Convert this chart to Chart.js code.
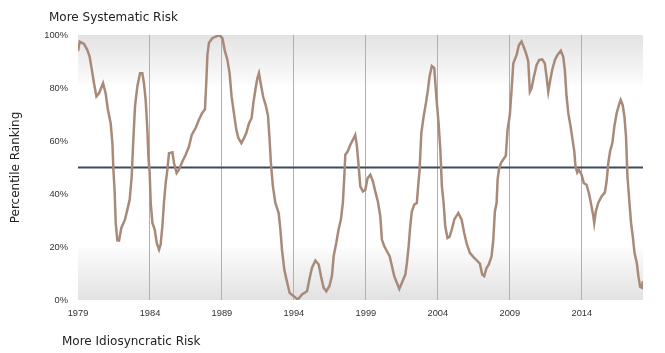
<!DOCTYPE html>
<html>
<head>
<meta charset="utf-8">
<script src="https://cdn.jsdelivr.net/npm/chart.js@4.4.1/dist/chart.umd.min.js"></script>
<style>
  body { margin: 0; background: #fff; }
  #wrap { width: 665px; height: 353px; }
</style>
</head>
<body>
<div id="wrap"><canvas id="graphe" width="665" height="353"></canvas></div>
<script>
// percentile ranking (decimal years)
const years = [
  1979.00, 1979.12, 1979.42, 1979.65, 1979.81, 1980.00, 1980.11, 1980.28, 1980.46, 1980.74,
  1980.92, 1981.08, 1981.27, 1981.39, 1981.46, 1981.55, 1981.62, 1981.73, 1981.85, 1982.01,
  1982.26, 1982.43, 1982.59, 1982.73, 1982.82, 1982.96, 1983.12, 1983.31, 1983.47, 1983.58,
  1983.70, 1983.82, 1983.89, 1983.98, 1984.05, 1984.17, 1984.33, 1984.47, 1984.63, 1984.74,
  1984.86, 1984.97, 1985.09, 1985.21, 1985.32, 1985.56, 1985.67, 1985.85, 1986.01, 1986.25,
  1986.48, 1986.71, 1986.90, 1987.17, 1987.40, 1987.64, 1987.82, 1987.92, 1987.99, 1988.10,
  1988.33, 1988.56, 1988.79, 1989.03, 1989.19, 1989.38, 1989.53, 1989.67, 1989.83, 1990.00,
  1990.14, 1990.35, 1990.53, 1990.69, 1990.88, 1991.06, 1991.18, 1991.34, 1991.46, 1991.57,
  1991.69, 1991.87, 1992.05, 1992.20, 1992.31, 1992.40, 1992.54, 1992.71, 1992.94, 1993.06,
  1993.17, 1993.33, 1993.51, 1993.70, 1993.99, 1994.27, 1994.56, 1994.91, 1995.07, 1995.25,
  1995.49, 1995.72, 1995.88, 1996.06, 1996.25, 1996.46, 1996.64, 1996.76, 1996.94, 1997.10,
  1997.26, 1997.40, 1997.50, 1997.57, 1997.73, 1997.92, 1998.10, 1998.26, 1998.38, 1998.49,
  1998.61, 1998.79, 1998.96, 1999.12, 1999.31, 1999.49, 1999.65, 1999.83, 2000.00, 2000.11,
  2000.28, 2000.46, 2000.65, 2000.81, 2000.97, 2001.15, 2001.32, 2001.50, 2001.74, 2001.85,
  2001.97, 2002.08, 2002.19, 2002.36, 2002.54, 2002.61, 2002.73, 2002.85, 2003.01, 2003.17,
  2003.31, 2003.42, 2003.58, 2003.75, 2003.89, 2004.05, 2004.17, 2004.28, 2004.40, 2004.51,
  2004.67, 2004.81, 2004.96, 2005.15, 2005.42, 2005.65, 2005.83, 2005.99, 2006.22, 2006.46,
  2006.69, 2006.92, 2007.08, 2007.22, 2007.38, 2007.54, 2007.73, 2007.85, 2007.96, 2008.08,
  2008.15, 2008.24, 2008.38, 2008.61, 2008.72, 2008.84, 2009.00, 2009.12, 2009.24, 2009.47,
  2009.63, 2009.81, 2010.00, 2010.16, 2010.28, 2010.39, 2010.51, 2010.67, 2010.86, 2011.04,
  2011.25, 2011.43, 2011.55, 2011.67, 2011.81, 2011.94, 2012.13, 2012.31, 2012.54, 2012.71,
  2012.82, 2012.94, 2013.06, 2013.22, 2013.34, 2013.48, 2013.56, 2013.68, 2013.79, 2013.98,
  2014.14, 2014.33, 2014.49, 2014.63, 2014.80, 2014.86, 2014.97, 2015.14, 2015.37, 2015.60,
  2015.72, 2015.84, 2015.96, 2016.12, 2016.26, 2016.42, 2016.58, 2016.70, 2016.84, 2016.96,
  2017.07, 2017.17, 2017.31, 2017.42, 2017.54, 2017.66, 2017.82, 2017.93, 2018.05, 2018.17,
  2018.24
];
const ranks = [
  94.0, 97.5, 96.6, 94.3, 91.8, 85.6, 81.8, 76.8, 78.0, 81.8,
  78.0, 71.7, 66.7, 59.2, 49.2, 40.4, 29.1, 22.5, 22.4, 27.2,
  30.3, 34.1, 37.9, 46.6, 57.9, 73.0, 80.5, 85.6, 85.6, 81.8,
  75.5, 64.2, 54.2, 47.9, 36.6, 29.1, 26.6, 21.5, 19.0, 20.9,
  27.8, 36.6, 44.1, 49.2, 55.4, 55.7, 51.7, 47.9, 49.2, 52.3,
  54.8, 57.9, 62.3, 64.9, 68.0, 70.7, 72.0, 83.1, 92.5, 97.1,
  98.8, 99.4, 100.0, 98.8, 94.3, 90.6, 85.6, 76.8, 70.5, 64.2,
  61.1, 59.2, 61.1, 63.0, 66.7, 68.6, 74.3, 79.9, 83.7, 85.6,
  81.8, 76.5, 73.3, 69.5, 60.5, 51.7, 42.9, 36.6, 32.8, 26.6,
  19.0, 11.5, 7.1, 2.7, 1.4, 0.2, 2.1, 3.3, 7.7, 12.1,
  14.9, 13.4, 9.0, 4.6, 3.3, 5.2, 9.0, 16.5, 21.5, 26.6,
  30.3, 36.6, 46.6, 54.8, 56.0, 58.6, 60.5, 62.3, 57.9, 51.0,
  42.9, 41.0, 41.6, 46.0, 47.3, 44.7, 41.0, 37.2, 31.6, 22.8,
  20.3, 18.4, 16.5, 12.7, 9.0, 6.5, 4.2, 6.5, 9.6, 14.0,
  20.3, 27.8, 33.4, 36.0, 36.6, 41.6, 49.2, 63.0, 69.2, 74.3,
  79.3, 84.3, 88.3, 87.5, 76.8, 66.7, 56.7, 42.9, 36.6, 27.8,
  23.4, 23.8, 26.5, 30.5, 32.8, 30.3, 25.3, 21.5, 17.8, 16.3,
  15.0, 13.7, 9.6, 9.0, 12.1, 13.4, 16.5, 22.8, 33.4, 36.6,
  45.4, 49.2, 51.7, 53.6, 54.4, 64.2, 69.9, 79.3, 89.3, 92.5,
  96.2, 97.5, 95.0, 92.5, 89.9, 78.6, 79.9, 84.3, 88.7, 90.6,
  90.8, 89.3, 84.3, 78.6, 83.1, 86.8, 90.6, 92.5, 94.1, 91.8,
  86.8, 76.8, 70.5, 65.5, 61.1, 56.0, 50.4, 48.1, 49.2, 47.3,
  44.1, 43.5, 40.4, 36.6, 31.6, 29.1, 33.4, 36.6, 39.1, 40.6,
  44.7, 51.7, 56.0, 59.2, 65.5, 70.5, 73.6, 75.5, 73.6, 69.2,
  61.7, 46.6, 36.6, 29.1, 24.0, 17.8, 14.0, 9.0, 5.0, 4.6,
  7.1
];
const xTicks = [1979, 1984, 1989, 1994, 1999, 2004, 2009, 2014];
const yTicks = [0, 20, 40, 60, 80, 100];
const neutralLevel = 50;
const xMin = 1979, xMax = 2018.25;

const topLabel = "More Systematic Risk";
const bottomLabel = "More Idiosyncratic Risk";
const yLabel = "Percentile Ranking";

const lineColor = "#a88a79";
const navy = "#3a4a62";
const font = "'DejaVu Sans', sans-serif";
const tickFont = "'Liberation Sans', Arial, sans-serif";

// grey bands at top and bottom of the plot
const bandPlugin = {
  id: "bands",
  beforeDraw(chart) {
    const a = chart.chartArea;
    const c = chart.ctx;
    const g = c.createLinearGradient(0, a.top, 0, a.bottom);
    g.addColorStop(0, "#e3e3e3");
    g.addColorStop(0.18, "#fbfbfb");
    g.addColorStop(0.19, "#ffffff");
    g.addColorStop(0.8, "#ffffff");
    g.addColorStop(0.81, "#fbfbfb");
    g.addColorStop(1, "#e2e2e2");
    c.save();
    c.fillStyle = g;
    c.fillRect(a.left, a.top, a.right - a.left, a.bottom - a.top);
    c.restore();
  },
  afterDraw(chart) {
    const c = chart.ctx;
    c.save();
    c.fillStyle = "#222";
    c.font = "12px " + font;
    c.textBaseline = "alphabetic";
    c.fillText(topLabel, 49, 21);
    c.fillText(bottomLabel, 62, 345);
    c.restore();
  }
};

const ctx = document.getElementById("graphe");
const chart = new Chart(ctx, {
  type: "line",
  data: {
    datasets: [
      {
        label: "Percentile",
        data: years.map((y, i) => ({ x: y, y: ranks[i] })),
        borderColor: lineColor,
        borderWidth: 2.5,
        pointRadius: 0,
        tension: 0,
        order: 1
      },
      {
        label: "Neutral",
        data: [{ x: xMin, y: neutralLevel }, { x: xMax, y: neutralLevel }],
        borderColor: navy,
        borderWidth: 2,
        pointRadius: 0,
        order: 2
      }
    ]
  },
  options: {
    responsive: false,
    animation: false,
    layout: { padding: { top: 35, right: 22, left: 0, bottom: 0 } },
    plugins: {
      legend: { display: false },
      tooltip: { enabled: false },
      title: { display: false }
    },
    scales: {
      x: {
        type: "linear",
        min: xMin,
        max: xMax,
        afterBuildTicks: (s) => { s.ticks = xTicks.map(v => ({ value: v })); },
        afterFit: (s) => { s.height = 53; },
        ticks: {
          autoSkip: false,
          maxRotation: 0,
          padding: 8,
          color: "#333",
          font: { family: tickFont, size: 9.3 },
          callback: (v) => String(v)
        },
        grid: {
          drawTicks: false,
          color: (c) => (c.tick && c.tick.value === xMin) ? "rgba(0,0,0,0)" : "#b0b0b0",
          lineWidth: 1
        },
        border: { display: false }
      },
      y: {
        min: 0,
        max: 100,
        afterBuildTicks: (s) => { s.ticks = yTicks.map(v => ({ value: v })); },
        afterFit: (s) => { s.width = 78; },
        ticks: {
          padding: 10,
          color: "#333",
          font: { family: tickFont, size: 9.3 },
          callback: (v) => v + "%"
        },
        grid: { display: false, drawTicks: false },
        border: { display: false },
        title: {
          display: true,
          text: yLabel,
          color: "#222",
          font: { family: font, size: 12 },
          padding: { top: 9, bottom: 0 }
        }
      }
    }
  },
  plugins: [bandPlugin]
});
</script>
</body>
</html>
